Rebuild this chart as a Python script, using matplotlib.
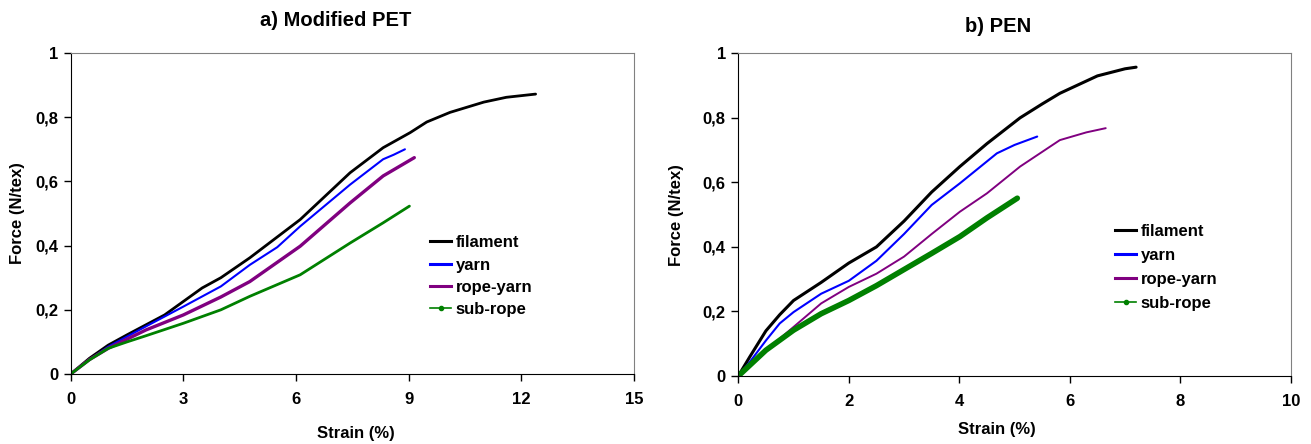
import matplotlib
matplotlib.use("Agg")
import matplotlib.pyplot as plt
from matplotlib.ticker import FuncFormatter
from matplotlib.lines import Line2D

plt.rcParams['font.family'] = ['Liberation Sans', 'DejaVu Sans']
plt.rcParams['font.weight'] = 'bold'

series_names = ["filament", "yarn", "rope-yarn", "sub-rope"]
colors = ["#000000", "#0000FF", "#800080", "#008000"]

# a) Modified PET
pet_filament_x = [0, 0.5, 1, 1.5, 2, 2.5, 3, 3.5, 4, 4.77, 6.11, 7.44, 8.32, 9.04, 9.48, 10.1, 11.0, 11.6, 12.38]
pet_filament_y = [0, 0.049, 0.09, 0.122, 0.153, 0.184, 0.226, 0.268, 0.30, 0.362, 0.481, 0.627, 0.705, 0.752, 0.785, 0.815, 0.847, 0.862, 0.872]
pet_yarn_x = [0, 0.5, 1, 2, 3, 4, 4.77, 5.5, 6.11, 7.44, 8.32, 8.6, 8.9]
pet_yarn_y = [0, 0.045, 0.085, 0.148, 0.21, 0.273, 0.34, 0.395, 0.46, 0.59, 0.669, 0.683, 0.70]
pet_ropeyarn_x = [0, 0.5, 1, 2, 3, 4, 4.77, 6.11, 7.44, 8.32, 9.15]
pet_ropeyarn_y = [0, 0.045, 0.08, 0.137, 0.184, 0.24, 0.288, 0.398, 0.533, 0.617, 0.674]
pet_subrope_x = [0, 0.5, 1, 1.5, 2, 3, 4, 4.77, 6.11, 7.44, 8.32, 9.02]
pet_subrope_y = [0, 0.044, 0.08, 0.10, 0.119, 0.158, 0.20, 0.242, 0.309, 0.408, 0.471, 0.523]

# b) PEN
pen_filament_x = [0, 0.21, 0.5, 0.75, 1, 1.5, 2, 2.5, 3, 3.5, 4.01, 4.5, 5.1, 5.5, 5.82, 6.5, 7, 7.2]
pen_filament_y = [0, 0.06, 0.14, 0.19, 0.234, 0.29, 0.35, 0.40, 0.48, 0.57, 0.649, 0.72, 0.80, 0.843, 0.876, 0.93, 0.952, 0.957]
pen_yarn_x = [0, 0.21, 0.5, 0.75, 1, 1.5, 2, 2.5, 3, 3.5, 4.01, 4.68, 5.0, 5.41]
pen_yarn_y = [0, 0.044, 0.11, 0.163, 0.198, 0.255, 0.295, 0.357, 0.44, 0.53, 0.597, 0.69, 0.716, 0.742]
pen_ropeyarn_x = [0, 0.5, 1, 1.5, 2, 2.5, 3, 3.5, 4.01, 4.5, 5.1, 5.82, 6.3, 6.65]
pen_ropeyarn_y = [0, 0.08, 0.152, 0.225, 0.276, 0.317, 0.37, 0.44, 0.509, 0.566, 0.649, 0.731, 0.755, 0.768]
pen_subrope_x = [0, 0.5, 1, 1.5, 2, 2.5, 3, 3.5, 4.01, 4.5, 5.05]
pen_subrope_y = [0, 0.08, 0.142, 0.193, 0.234, 0.28, 0.33, 0.38, 0.432, 0.49, 0.551]

x_ticks_a = [0, 3, 6, 9, 12, 15]
x_ticks_b = [0, 2, 4, 6, 8, 10]
y_ticks = [0, 0.2, 0.4, 0.6, 0.8, 1.0]

W, H = 1311, 444
fig = plt.figure(figsize=(W / 100, H / 100), dpi=100)
ax1 = fig.add_axes([70.7 / W, 1 - 374 / H, 563.3 / W, 321 / H])
ax2 = fig.add_axes([738.3 / W, 1 - 376 / H, 552.5 / W, 322.7 / H])


def yfmt(v, pos):
    s = ("%.1f" % v).rstrip('0').rstrip('.')
    return s.replace('.', ',')


def style(ax, xt, xmax, xlab_pos, ylab_pos):
    ax.set_xlim(0, xmax)
    ax.set_ylim(0, 1)
    ax.set_xticks(xt)
    ax.set_yticks(y_ticks)
    ax.yaxis.set_major_formatter(FuncFormatter(yfmt))
    ax.tick_params(direction='out', length=5, width=1, labelsize=12)
    ax.tick_params(axis='x', pad=8)
    ax.tick_params(axis='y', pad=4)
    for lab in ax.get_xticklabels() + ax.get_yticklabels():
        lab.set_fontweight('bold')
    ax.spines['top'].set_color('#808080')
    ax.spines['right'].set_color('#808080')
    ax.set_xlabel("Strain (%)", fontsize=12, fontweight='bold')
    ax.set_ylabel("Force (N/tex)", fontsize=12, fontweight='bold')
    ax.xaxis.set_label_coords(*xlab_pos)
    ax.yaxis.set_label_coords(*ylab_pos)
    ax.xaxis.label.set_va('center')
    ax.yaxis.label.set_va('center')


pet = [(pet_filament_x, pet_filament_y), (pet_yarn_x, pet_yarn_y),
       (pet_ropeyarn_x, pet_ropeyarn_y), (pet_subrope_x, pet_subrope_y)]
pen = [(pen_filament_x, pen_filament_y), (pen_yarn_x, pen_yarn_y),
       (pen_ropeyarn_x, pen_ropeyarn_y), (pen_subrope_x, pen_subrope_y)]

lw_a = [2.0, 1.5, 2.4, 2.0]
lw_b = [2.2, 1.5, 1.4, 4.0]
for i, (x, y) in enumerate(pet):
    ax1.plot(x, y, color=colors[i], lw=lw_a[i], solid_capstyle='round')
for i, (x, y) in enumerate(pen):
    ax2.plot(x, y, color=colors[i], lw=lw_b[i], solid_capstyle='round')

style(ax1, x_ticks_a, 15, (0.506, -0.184), (-0.095, 0.5))
style(ax2, x_ticks_b, 10, (0.468, -0.167), (-0.111, 0.5))

for ax, loc, sp in ((ax1, (0.638, 0.432), 0.44), (ax2, (0.682, 0.472), 0.54)):
    hs = [Line2D([], [], color=colors[i], lw=2.2 if i < 3 else 1.2,
                 marker='o' if i == 3 else None, markersize=3) for i in range(4)]
    ax.legend(hs, series_names, loc='upper left', bbox_to_anchor=loc, frameon=False,
              prop={'weight': 'bold', 'size': 12}, handlelength=1.27, handletextpad=0.27,
              labelspacing=sp, borderaxespad=0, borderpad=0)

fig.text(336 / W, 1 - 20 / H, "a) Modified PET", ha='center', va='center', fontsize=14.5, fontweight='bold')
fig.text(998 / W, 1 - 27 / H, "b) PEN", ha='center', va='center', fontsize=14.5, fontweight='bold')

fig.savefig("out.png", dpi=100)
